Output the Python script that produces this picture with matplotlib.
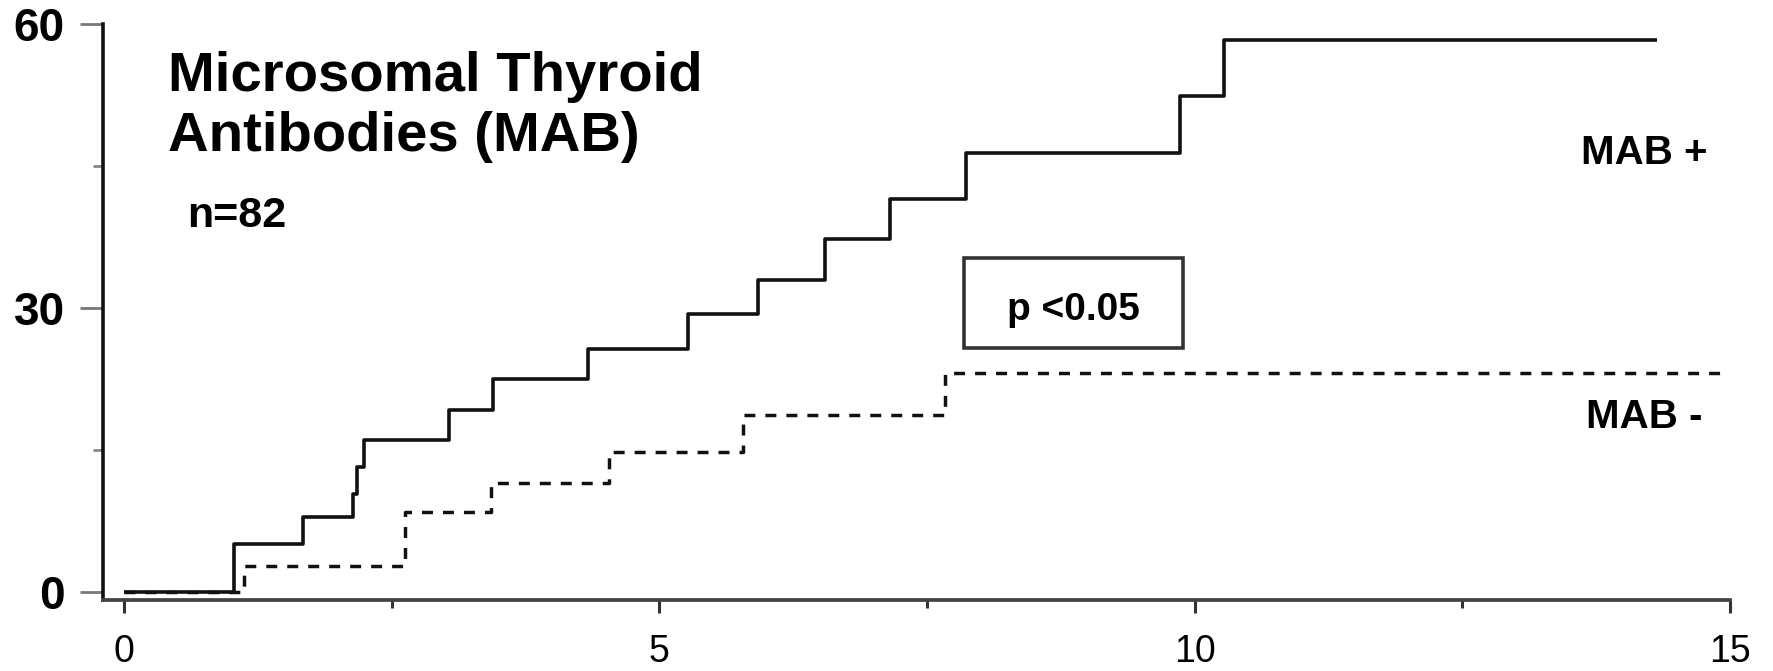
"""
Cumulative incidence by microsomal thyroid antibody status.

Redraws a step chart comparing MAB-positive and MAB-negative patients
(n=82) over 15 years of follow-up.

Outputs:
- ``out.png``: the step chart
"""

import matplotlib

matplotlib.use("Agg")
import matplotlib.pyplot as plt
from matplotlib.patches import Rectangle

OUTPUT_PLOT = "out.png"

# Step times (years) and cumulative values.
mab_pos_years = [0, 1.03, 1.67, 2.14, 2.18, 2.24, 3.04, 3.45, 4.33, 5.27,
                 5.92, 6.55, 7.15, 7.86, 9.86, 10.27, 14.32]
mab_pos_values = [0, 5.1, 7.9, 10.4, 13.2, 16.1, 19.2, 22.5, 25.7, 29.4,
                  33.0, 37.3, 41.6, 46.4, 52.4, 58.4, 58.4]

mab_neg_years = [0, 1.12, 2.62, 3.43, 4.53, 5.78, 7.67, 15.0]
mab_neg_values = [0, 2.7, 8.5, 11.5, 14.8, 18.7, 23.2, 23.2]

x_major_ticks = [0, 5, 10, 15]
x_minor_ticks = [2.5, 7.5, 12.5]
y_major_ticks = [0, 30, 60]
y_minor_ticks = [15, 45]

title_text = "Microsomal Thyroid\nAntibodies (MAB)"
count_text = "n=82"
pvalue_text = "p <0.05"
pos_label = "MAB +"
neg_label = "MAB -"

BOLD_FONT = ["Liberation Sans", "DejaVu Sans"]
NARROW_FONT = ["Liberation Sans Narrow", "Liberation Sans", "DejaVu Sans"]

plt.rcParams["lines.scale_dashes"] = False

fig = plt.figure(figsize=(17.74, 6.71), dpi=100)
ax = fig.add_axes([0.05806, 0.10581, 0.91714, 0.85768])

ax.plot(mab_pos_years, mab_pos_values, drawstyle="steps-post",
        color="#111111", linewidth=2.6, solid_capstyle="butt")
ax.plot(mab_neg_years, mab_neg_values, drawstyle="steps-post",
        color="#111111", linewidth=2.5, linestyle=(0, (7.9, 7.2)))

ax.set_xlim(-0.196, 15.0)
ax.set_ylim(-0.846, 60.0)

for side in ("top", "right"):
    ax.spines[side].set_visible(False)
ax.spines["left"].set_linewidth(2.6)
ax.spines["left"].set_color("#111111")
ax.spines["bottom"].set_linewidth(2.7)
ax.spines["bottom"].set_color("#444444")

ax.set_xticks(x_major_ticks)
ax.set_xticks(x_minor_ticks, minor=True)
ax.set_yticks(y_major_ticks)
ax.set_yticks(y_minor_ticks, minor=True)

ax.tick_params(axis="x", which="major", direction="out", length=9.4,
               width=2.2, color="#333333", pad=15)
ax.tick_params(axis="x", which="minor", direction="out", length=5.8,
               width=2.2, color="#333333")
ax.tick_params(axis="y", which="major", direction="out", length=16.5,
               width=2.0, color="#777777", pad=11)
ax.tick_params(axis="y", which="minor", direction="out", length=7,
               width=2.0, color="#888888")

for label in ax.get_xticklabels():
    label.set_family(NARROW_FONT)
    label.set_fontsize(27)
for label in ax.get_yticklabels():
    label.set_family(BOLD_FONT)
    label.set_fontsize(33)
    label.set_fontweight("bold")

ax.text(0.41, 57.2, title_text, family=BOLD_FONT, fontweight="bold",
        fontsize=40.5, ha="left", va="top", linespacing=1.2)
ax.text(0.59, 38.6, count_text, family=BOLD_FONT, fontweight="bold",
        fontsize=31, ha="left", va="baseline")
ax.text(14.79, 45.3, pos_label, family=BOLD_FONT, fontweight="bold",
        fontsize=29, ha="right", va="baseline")
ax.text(14.74, 17.3, neg_label, family=BOLD_FONT, fontweight="bold",
        fontsize=29, ha="right", va="baseline")

# Boxed significance note.
ax.add_patch(Rectangle((7.85, 25.8), 2.04, 9.5, fill=False,
                       edgecolor="#333333", linewidth=2.6))
ax.text(8.87, 28.8, pvalue_text, family=BOLD_FONT, fontweight="bold",
        fontsize=28, ha="center", va="baseline")

fig.savefig(OUTPUT_PLOT, dpi=100)
